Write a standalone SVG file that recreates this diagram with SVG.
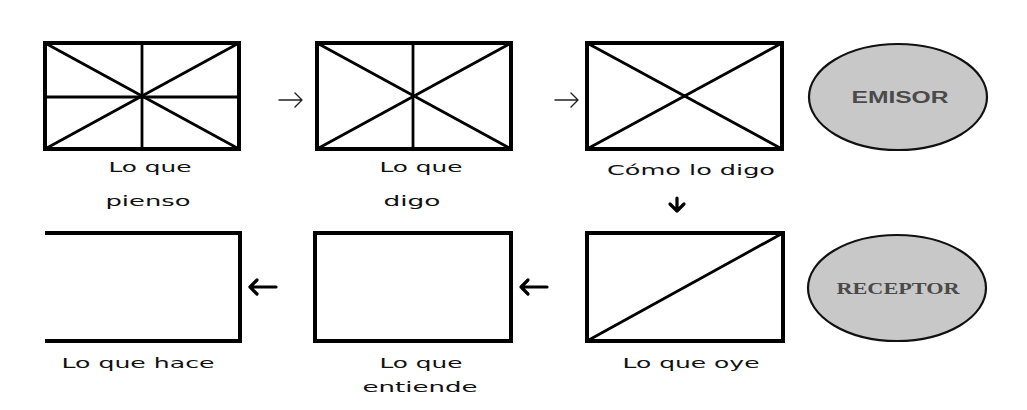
<svg xmlns="http://www.w3.org/2000/svg" width="1027" height="410" viewBox="0 0 1027 410">
<style>
.frame{fill:none;stroke:#000;stroke-width:4;stroke-linejoin:miter}
.inner{fill:none;stroke:#000;stroke-width:2.8}
.lbl{font-family:"DejaVu Sans",Verdana,sans-serif;font-size:14.5px;fill:#111;text-anchor:middle}
.oval{fill:#c8c8c8;stroke:#111;stroke-width:2.2}
.thin{fill:none;stroke:#222;stroke-width:1.4;stroke-linecap:round;stroke-linejoin:round}
.bold{fill:none;stroke:#000;stroke-width:3.2;stroke-linecap:round;stroke-linejoin:round}
</style>
<rect width="1027" height="410" fill="#fff"/>

<g id="lo-que-pienso">
<rect class="frame" x="45" y="43" width="194" height="106"/>
<line class="inner" x1="142" y1="43" x2="142" y2="149"/>
<line class="inner" x1="45" y1="97" x2="239" y2="97"/>
<line class="inner" x1="45" y1="43" x2="239" y2="149"/>
<line class="inner" x1="45" y1="149" x2="239" y2="43"/>
<text class="lbl" x="150" y="172" textLength="83" lengthAdjust="spacingAndGlyphs">Lo que</text>
<text class="lbl" x="148" y="206" textLength="85" lengthAdjust="spacingAndGlyphs">pienso</text>
</g>

<g id="lo-que-digo">
<rect class="frame" x="317" y="43" width="194" height="106"/>
<line class="inner" x1="413" y1="43" x2="413" y2="149"/>
<line class="inner" x1="317" y1="43" x2="511" y2="149"/>
<line class="inner" x1="317" y1="149" x2="511" y2="43"/>
<text class="lbl" x="421" y="172" textLength="83" lengthAdjust="spacingAndGlyphs">Lo que</text>
<text class="lbl" x="412" y="206" textLength="57" lengthAdjust="spacingAndGlyphs">digo</text>
</g>

<g id="como-lo-digo">
<rect class="frame" x="587" y="43" width="195" height="106"/>
<line class="inner" x1="587" y1="43" x2="782" y2="149"/>
<line class="inner" x1="587" y1="149" x2="782" y2="43"/>
<text class="lbl" x="691" y="175" textLength="168" lengthAdjust="spacingAndGlyphs">Cómo lo digo</text>
</g>

<g id="emisor">
<ellipse class="oval" cx="898" cy="97" rx="89" ry="53"/>
<text x="900" y="103" font-family="'Liberation Sans',Arial,sans-serif" font-weight="bold" font-size="16" fill="#4a4a4a" text-anchor="middle" textLength="97" lengthAdjust="spacingAndGlyphs">EMISOR</text>
</g>

<g id="lo-que-hace">
<path class="frame" d="M45 233 H240 V341 H45"/>
<text class="lbl" x="138" y="368" textLength="153" lengthAdjust="spacingAndGlyphs">Lo que hace</text>
</g>

<g id="lo-que-entiende">
<rect class="frame" x="315" y="233" width="196" height="108"/>
<text class="lbl" x="421" y="368" textLength="83" lengthAdjust="spacingAndGlyphs">Lo que</text>
<text class="lbl" x="420" y="392" textLength="115" lengthAdjust="spacingAndGlyphs">entiende</text>
</g>

<g id="lo-que-oye">
<rect class="frame" x="587" y="233" width="196" height="108"/>
<line class="inner" x1="587" y1="341" x2="783" y2="233"/>
<text class="lbl" x="691" y="368" textLength="137" lengthAdjust="spacingAndGlyphs">Lo que oye</text>
</g>

<g id="receptor">
<ellipse class="oval" cx="897" cy="288" rx="89" ry="53"/>
<text x="898" y="294" font-family="'Liberation Serif','Times New Roman',serif" font-weight="bold" font-size="17" fill="#4a4a4a" text-anchor="middle" textLength="123" lengthAdjust="spacingAndGlyphs">RECEPTOR</text>
</g>

<g id="connectors">
<path class="thin" d="M279 100 H302 M295 93 L302 100 L295 107"/>
<path class="thin" d="M555 100 H578 M571 93 L578 100 L571 107"/>
<path class="bold" d="M677 198 V211 M670 204 L677 211 L684 204"/>
<path class="bold" d="M276 287 H250 M257 280 L250 287 L257 294"/>
<path class="bold" d="M547 287 H521 M528 280 L521 287 L528 294"/>
</g>
</svg>
